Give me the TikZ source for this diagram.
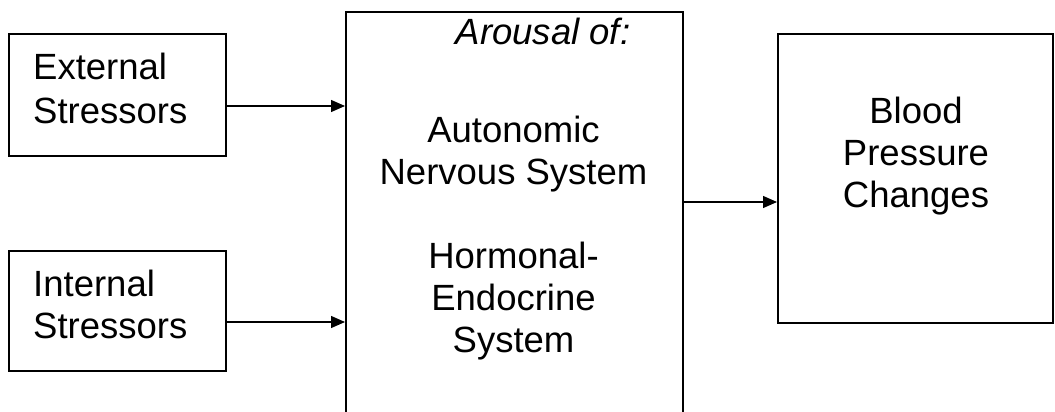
\documentclass[tikz,border=0pt]{standalone}
\usepackage{fontspec}
\setmainfont{Liberation Sans}
\usetikzlibrary{arrows.meta}
\begin{document}
\begin{tikzpicture}[x=1pt,y=-1pt,
  box/.style={draw, line width=2pt, inner sep=0pt, anchor=north west},
  lbl/.style={inner sep=0pt, font=\fontsize{36.5}{42}\selectfont},
  arr/.style={line width=1.3pt, -{Triangle[length=14pt,width=12pt]}}]
\useasboundingbox (0,0) rectangle (1055,412);
\clip (0,0) rectangle (1055,412);
\fill[white] (0,0) rectangle (1055,412);
\node[box, minimum width=217pt, minimum height=122pt] (ext) at (8,33) {};
\node[box, minimum width=217pt, minimum height=120pt] (int) at (8,250) {};
\node[box, minimum width=337pt, minimum height=450pt] (mid) at (345,11) {};
\node[box, minimum width=275pt, minimum height=289pt] (bp) at (777,33) {};
\node[lbl, anchor=base west] (t1) at (33,80) {External};
\node[lbl, anchor=base west] (t2) at (33,123) {Stressors};
\node[lbl, anchor=base west] (t3) at (33,296) {Internal};
\node[lbl, anchor=base west] (t4) at (33,338) {Stressors};
\node[lbl, anchor=base, font=\fontsize{36.5}{42}\selectfont\itshape] (m0) at (543,45) {Arousal of:};
\node[lbl, anchor=base] (m1) at (513.5,142) {Autonomic};
\node[lbl, anchor=base] (m2) at (513.5,184) {Nervous System};
\node[lbl, anchor=base] (m3) at (513.5,268) {Hormonal-};
\node[lbl, anchor=base] (m4) at (513.5,310) {Endocrine};
\node[lbl, anchor=base] (m5) at (513.5,352) {System};
\node[lbl, anchor=base] (r1) at (916,123) {Blood};
\node[lbl, anchor=base] (r2) at (916,165) {Pressure};
\node[lbl, anchor=base] (r3) at (916,207) {Changes};
\coordinate (y1) at (0,106);
\coordinate (y2) at (0,322);
\coordinate (y3) at (0,202);
\draw[arr] (ext.east |- y1) -- (mid.west |- y1);
\draw[arr] (int.east |- y2) -- (mid.west |- y2);
\draw[arr] (mid.east |- y3) -- (bp.west |- y3);
\end{tikzpicture}
\end{document}
